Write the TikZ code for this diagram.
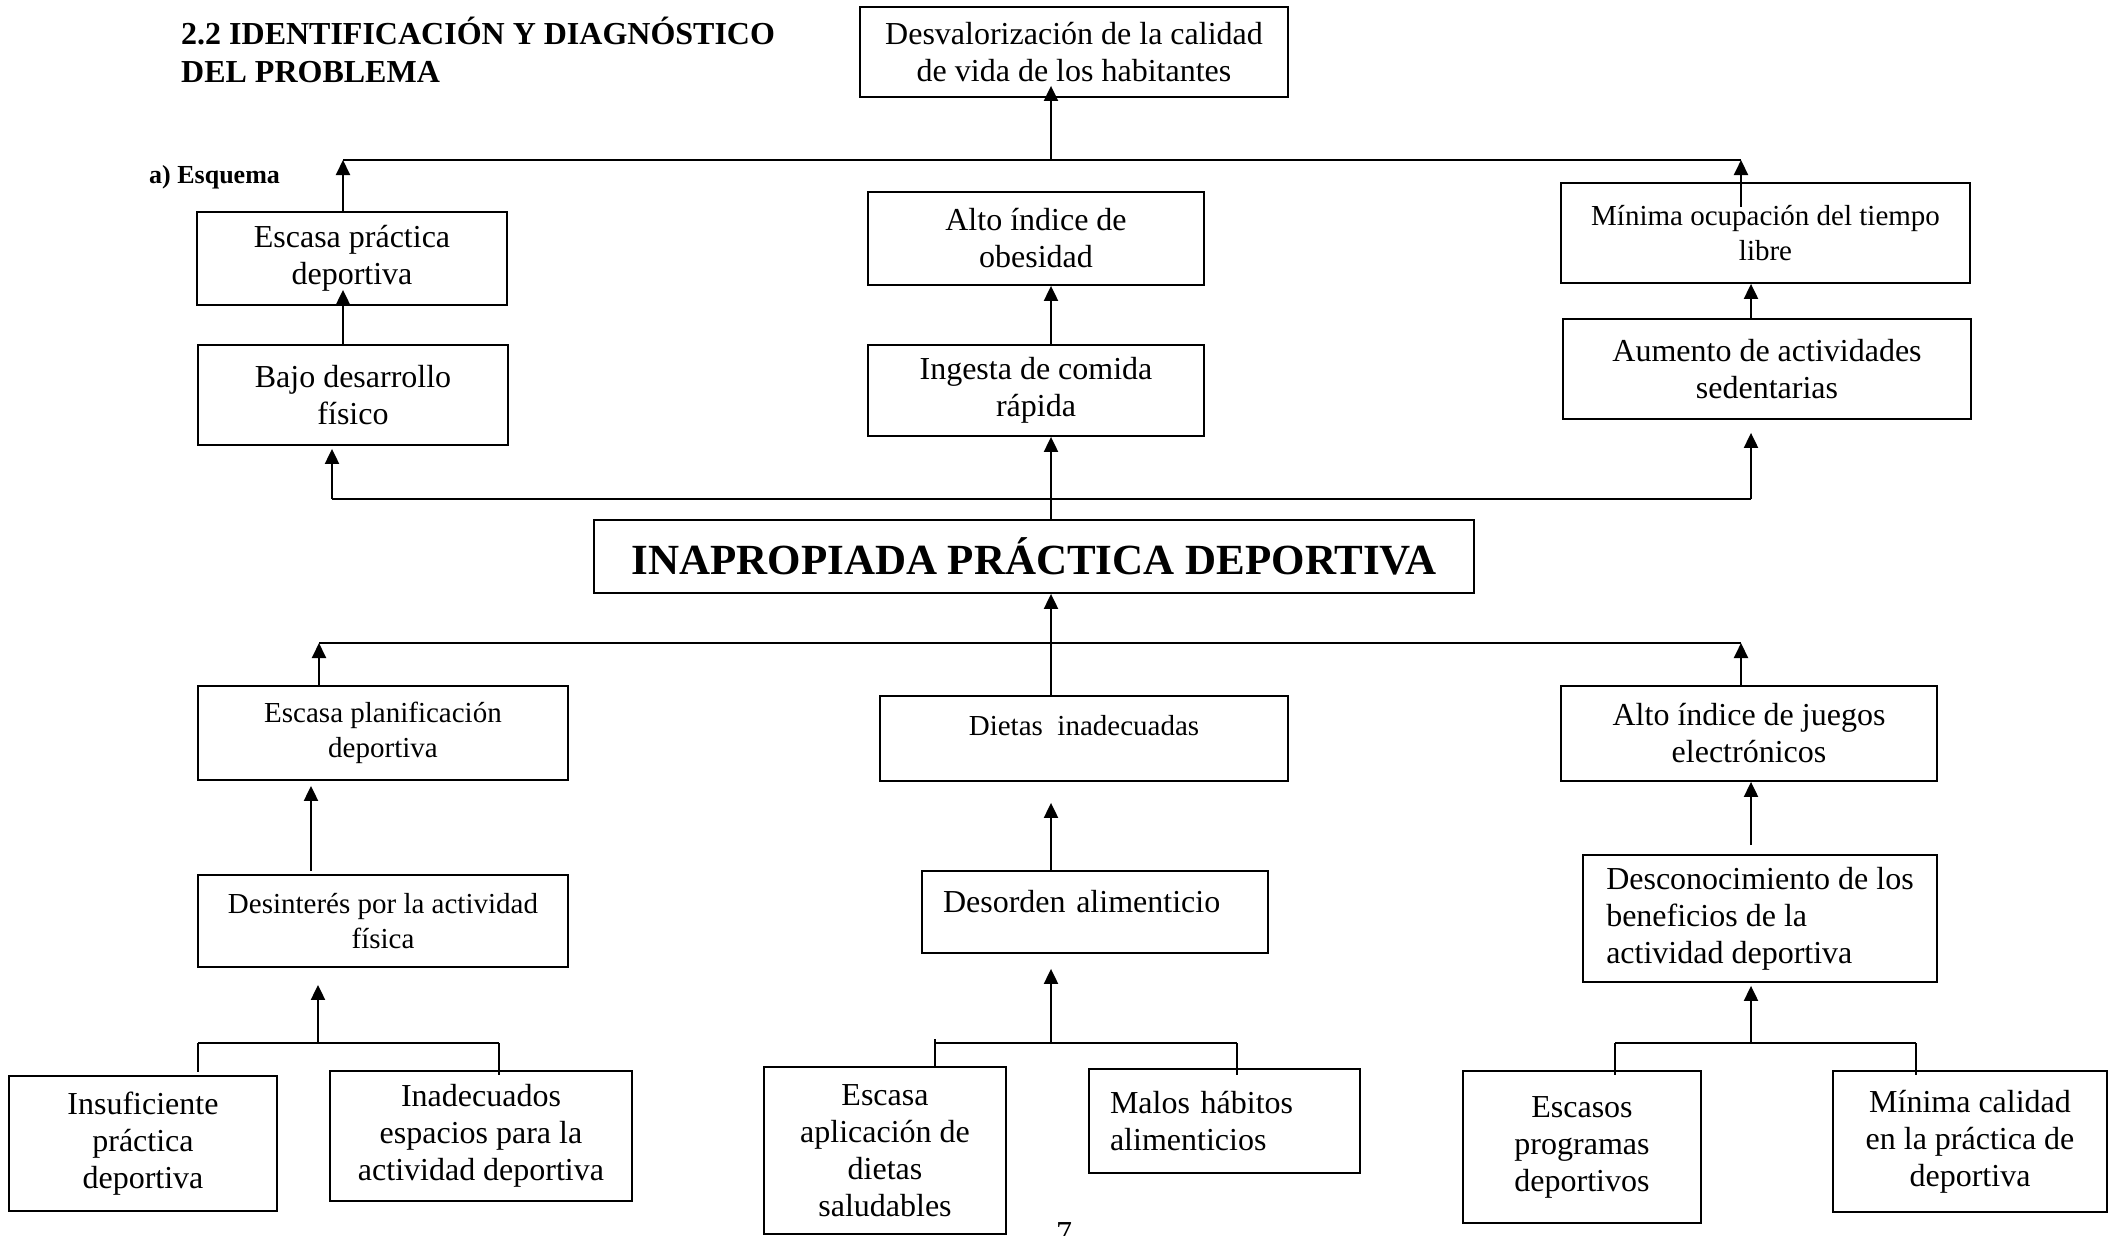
\documentclass[tikz,border=0pt]{standalone}
\usepackage{fontspec}
\setmainfont{Liberation Serif}
\usepackage{tikz}
\usetikzlibrary{arrows.meta}
\usetikzlibrary{calc}
\tikzstyle{box} = [rectangle, draw=black, line width=1.8pt, inner sep=0pt,
align=center, font=\fontsize{32}{37}\selectfont]
\tikzstyle{sbox} = [box, font=\fontsize{29}{34.5}\selectfont]
\tikzstyle{lbox} = [box, align=left]
\tikzstyle{head} = [inner sep=0pt, align=left, font=\bfseries\fontsize{32}{37.5}\selectfont]
\tikzstyle{arr} = [-{Triangle[length=15pt,width=14pt]}, line width=2pt]
\tikzstyle{bus} = [line width=1.4pt]

\begin{document}
\begin{tikzpicture}[x=1pt, y=-1pt]
    \useasboundingbox (0,0) rectangle (2118,1235);
    \node[head, anchor=base west](titulo) at (181,82) {2.2 IDENTIFICACIÓN Y DIAGNÓSTICO\\DEL PROBLEMA};
    \node[head, font=\bfseries\fontsize{26}{30}\selectfont, anchor=base west](esquema) at (149,183) {a) Esquema};
    % efectos
    \node[box, minimum width=428pt, minimum height=90pt](desval) at (1074,52) {Desvalorización de la calidad\\de vida de los habitantes};
    \node[box, minimum width=310pt, minimum height=93pt](escprac) at (352,258.5) {Escasa práctica\\deportiva};
    \node[box, minimum width=310pt, minimum height=100pt](bajo) at (353,395) {Bajo desarrollo\\físico};
    \node[box, minimum width=336pt, minimum height=93pt](obes) at (1036,238.5) {Alto índice de\\obesidad};
    \node[box, minimum width=336pt, minimum height=91pt](ingesta) at (1036,390.5) {Ingesta de comida\\rápida};
    \node[sbox, minimum width=409pt, minimum height=100pt](minocup) at (1765.5,233) {Mínima ocupación del tiempo\\libre};
    \node[box, minimum width=408pt, minimum height=100pt](aumento) at (1767,369) {Aumento de actividades\\sedentarias};
    % problema
    \node[box, font=\bfseries\fontsize{43}{50}\selectfont, minimum width=880pt, minimum height=73pt](prob) at (1034,556.5) {INAPROPIADA PRÁCTICA DEPORTIVA};
    % causas
    \node[sbox, minimum width=370pt, minimum height=94pt](escplan) at (383,733) {Escasa planificación\\deportiva};
    \node[sbox, minimum width=408pt, minimum height=85pt, text height=20pt, text depth=27pt](dietas) at (1084,738.5) {Dietas~ inadecuadas};
    \node[box, minimum width=376pt, minimum height=95pt](juegos) at (1749,733.5) {Alto índice de juegos\\electrónicos};
    \node[sbox, minimum width=370pt, minimum height=92pt](desint) at (383,921) {Desinterés por la actividad\\física};
    \node[lbox, text width=304pt, minimum width=346pt, minimum height=82pt, text height=22pt, text depth=22pt](desorden) at (1095,912) {Desorden alimenticio};
    \node[lbox, minimum width=354pt, minimum height=127pt](descon) at (1760,918.5) {Desconocimiento de los\\beneficios de la\\actividad deportiva};
    \node[box, minimum width=268pt, minimum height=135pt](insuf) at (143,1143.5) {Insuficiente\\práctica\\deportiva};
    \node[box, minimum width=302pt, minimum height=130pt](inadec) at (481,1136) {Inadecuados\\espacios para la\\actividad deportiva};
    \node[box, minimum width=242pt, minimum height=167pt](escapl) at (885,1150.5) {Escasa\\aplicación de\\dietas\\saludables};
    \node[lbox, text width=229pt, minimum width=271pt, minimum height=104pt](malos) at (1224.5,1121) {Malos hábitos\\alimenticios};
    \node[box, minimum width=238pt, minimum height=152pt](escasos) at (1582,1147) {Escasos\\programas\\deportivos};
    \node[box, minimum width=274pt, minimum height=141pt](mincal) at (1970,1141.5) {Mínima calidad\\en la práctica de\\deportiva};
    \node[inner sep=0pt, font=\fontsize{32}{37}\selectfont, anchor=base](pagina) at (1064,1243) {7};

    % nudos de las lineas
    \coordinate (t1) at (343,160); \coordinate (t2) at (1051,160); \coordinate (t3) at (1741,160);
    \coordinate (m1) at (332,499); \coordinate (m2) at (1051,499); \coordinate (m3) at (1751,499);
    \coordinate (c1) at (319,643); \coordinate (c2) at (1051,643); \coordinate (c3) at (1741,643);
    \coordinate (l1) at (198,1043); \coordinate (l2) at (318,1043); \coordinate (l3) at (499,1043);
    \coordinate (d1) at (935,1043); \coordinate (d2) at (1051,1043); \coordinate (d3) at (1237,1043);
    \coordinate (r1) at (1615,1043); \coordinate (r2) at (1751,1043); \coordinate (r3) at (1916,1043);

    % arbol de efectos
    \draw[bus] (t1) -- (t3);
    \draw[arr] (t2) -- ([yshift=12pt]desval.south -| t2);
    \draw[arr] (escprac.north -| t1) -- (t1);
    \draw[arr] ([yshift=-25pt]minocup.north -| t3) -- (t3);
    \draw[arr] (bajo.north -| t1) -- ([yshift=16pt]escprac.south -| t1);
    \draw[arr] (ingesta.north -| t2) -- (obes.south -| t2);
    \draw[arr] (aumento.north -| m3) -- (minocup.south -| m3);
    \draw[bus] (m1) -- (m3);
    \draw[arr] (m1) -- ([yshift=-3pt]bajo.south -| m1);
    \draw[arr] (prob.north -| m2) -- (ingesta.south -| m2);
    \draw[arr] (m3) -- ([yshift=-13pt]aumento.south -| m3);
    % arbol de causas
    \draw[bus] (c1) -- (c3);
    \draw[arr] (escplan.north -| c1) -- (c1);
    \draw[arr] (dietas.north -| c2) -- (prob.south -| c2);
    \draw[arr] (juegos.north -| c3) -- (c3);
    \draw[arr] ([xshift=-72pt,yshift=3pt]desint.north) -- ([xshift=-72pt,yshift=-5pt]escplan.south);
    \draw[arr] (desorden.north -| c2) -- ([yshift=-21pt]dietas.south -| c2);
    \draw[arr] ([yshift=9pt]descon.north -| r2) -- (juegos.south -| r2);
    %\draw[arr] (desint) -- (escplan);
    \draw[bus] (l1) -- (l3);
    \draw[arr] (l2) -- ([yshift=-17pt]desint.south -| l2);
    \draw[bus] (l1) -- ([yshift=3pt]insuf.north -| l1);
    \draw[bus] (l3) -- ([yshift=-5pt]inadec.north -| l3);
    \draw[bus] (d1) -- (d3);
    \draw[arr] (d2) -- ([yshift=-15pt]desorden.south -| d2);
    \draw[bus] ([yshift=4pt]d1) -- (escapl.north -| d1);
    \draw[bus] (d3) -- ([yshift=-7pt]malos.north -| d3);
    \draw[bus] (r1) -- (r3);
    \draw[arr] (r2) -- ([yshift=-3pt]descon.south -| r2);
    \draw[bus] (r1) -- ([yshift=-5pt]escasos.north -| r1);
    \draw[bus] (r3) -- ([yshift=-5pt]mincal.north -| r3);
\end{tikzpicture}
\end{document}
